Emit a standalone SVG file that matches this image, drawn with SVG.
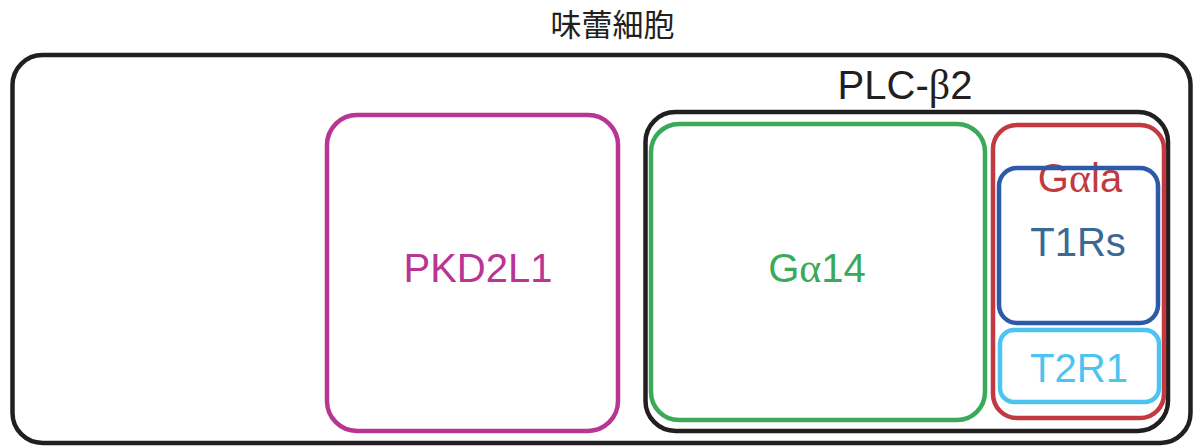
<svg xmlns="http://www.w3.org/2000/svg" width="1198" height="446" viewBox="0 0 1198 446">
<style>
rect{fill:none;stroke-width:4.5}
text{font-family:"Liberation Sans",Arial,sans-serif;font-size:40px;text-anchor:middle}
.gr{font-family:"Liberation Serif","Times New Roman",serif;font-size:42px}
.cjk{font-family:"Noto Sans CJK JP","Noto Sans CJK SC",sans-serif;font-size:31px;fill:#231f20}
</style>
<g id="cell">
<rect x="12.5" y="55" width="1178" height="388" rx="30" stroke="#231f20" stroke-width="4"/>
<text class="cjk" x="612.5" y="36">味蕾細胞</text>
</g>
<g id="pkd2l1">
<rect x="327" y="115" width="291" height="316" rx="30" stroke="#b83593"/>
<text x="478" y="282" fill="#b83593">PKD2L1</text>
</g>
<g id="plcb2">
<rect x="645.5" y="112" width="522.5" height="319" rx="30" stroke="#231f20"/>
<text x="905" y="99" fill="#231f20">PLC-<tspan class="gr">β</tspan>2</text>
</g>
<g id="ga14">
<rect x="651" y="124" width="334" height="296" rx="28" stroke="#3aaa5a"/>
<text x="817" y="282" fill="#3aaa5a">G<tspan class="gr">α</tspan>14</text>
</g>
<g id="gai">
<rect x="993" y="125" width="171" height="293" rx="24" stroke="#c23a40"/>
<text x="1080" y="192" fill="#c23a40">G<tspan class="gr">α</tspan>la</text>
</g>
<g id="t1rs">
<rect x="999" y="168" width="159" height="155" rx="18" stroke="#2c5aa8"/>
<text x="1078" y="256" fill="#3b6995">T1Rs</text>
</g>
<g id="t2r1">
<rect x="1000" y="330" width="159" height="72" rx="14" stroke="#4dc4f0"/>
<text x="1079" y="382" fill="#4dc4f0">T2R1</text>
</g>
<g id="connectors"></g>
</svg>
